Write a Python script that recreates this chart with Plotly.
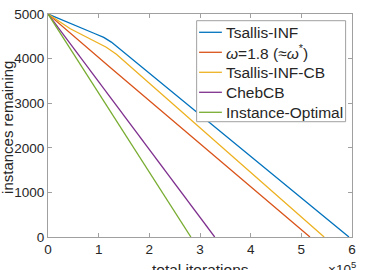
import plotly.graph_objects as go

# data (raw iteration counts; axis shows units of 1e5)
tsallis_x = [0, 44000, 93000, 110000, 125000, 594000]
tsallis_y = [5000, 4782, 4557, 4475, 4370, 0]
omega_x = [0, 120000, 517000]
omega_y = [5000, 3830, 0]
tsallis_cb_x = [0, 44000, 93000, 115000, 135000, 545000]
tsallis_cb_y = [5000, 4670, 4384, 4255, 4100, 0]
cheb_x = [0, 329000]
cheb_y = [5000, 0]
opt_x = [0, 282000]
opt_y = [5000, 0]

names = ["Tsallis-INF", "<i>ω</i>=1.8 (≈<i>ω</i><sup>*</sup>)", "Tsallis-INF-CB", "ChebCB", "Instance-Optimal"]
colors = ["#0072BD", "#D95319", "#EDB120", "#7E2F8E", "#77AC30"]
xs = [tsallis_x, omega_x, tsallis_cb_x, cheb_x, opt_x]
ys = [tsallis_y, omega_y, tsallis_cb_y, cheb_y, opt_y]
scale = 1e5
x_title = "total iterations"
y_title = "instances remaining"

fig = go.Figure()
for n, c, x, y in zip(names, colors, xs, ys):
    fig.add_trace(go.Scatter(x=[v / scale for v in x], y=y, mode="lines", name=n,
                             line=dict(color=c, width=1.3), showlegend=False))

font = "Liberation Sans, Arial, sans-serif"
axcol = "#a0a0a0"
txtcol = "#262626"

# manual legend box (paper coordinates)
shapes = [dict(type="rect", xref="paper", yref="paper", x0=0.489, x1=0.979, y0=0.517, y1=0.970,
               line=dict(color=axcol, width=1), fillcolor="white", layer="above")]
annotations = []
row_y0, row_dy = 0.918, 20 / 223
for i, (n, c) in enumerate(zip(names, colors)):
    yy = row_y0 - i * row_dy
    shapes.append(dict(type="line", xref="paper", yref="paper", x0=0.497, x1=0.572, y0=yy, y1=yy,
                       line=dict(color=c, width=1.3), layer="above"))
    annotations.append(dict(text=n, x=0.579, y=yy, xref="paper", yref="paper", xanchor="left",
                            yanchor="middle", showarrow=False,
                            font=dict(size=15.5, color=txtcol, family=font)))

annotations.append(dict(text="×10<sup>5</sup>", x=1.0, y=0, xref="paper", yref="paper",
                        xanchor="right", yanchor="top", xshift=6, yshift=-20, showarrow=False,
                        font=dict(size=13.5, color=txtcol, family=font)))
# axis titles
annotations.append(dict(text=x_title, x=0.5, y=0, xref="paper", yref="paper",
                        xanchor="center", yanchor="top", yshift=-22, showarrow=False,
                        font=dict(size=15.5, color=txtcol, family=font)))
annotations.append(dict(text=y_title, x=0, y=0.489, xref="paper", yref="paper", textangle=-90,
                        xanchor="center", yanchor="middle", xshift=-40, showarrow=False,
                        font=dict(size=15, color=txtcol, family=font)))

fig.update_layout(
    width=383, height=270,
    margin=dict(l=48, r=31, t=14, b=33),
    paper_bgcolor="white", plot_bgcolor="white",
    font=dict(family=font, color=txtcol, size=13),
    showlegend=False,
    shapes=shapes,
    annotations=annotations,
    xaxis=dict(range=[0, 6], tickvals=[0, 1, 2, 3, 4, 5, 6], ticks="inside", ticklen=4,
               tickcolor=axcol, showline=True, linecolor=axcol, linewidth=1, mirror="ticks",
               showgrid=False, zeroline=False, tickfont=dict(size=13.5), automargin=False),
    yaxis=dict(range=[0, 5000], tickvals=[0, 1000, 2000, 3000, 4000, 5000], ticks="inside", ticklen=4,
               tickcolor=axcol, showline=True, linecolor=axcol, linewidth=1, mirror="ticks",
               showgrid=False, zeroline=False, tickfont=dict(size=13.5), automargin=False),
)
fig.write_html("out.html", config={"displayModeBar": False},
               post_script="document.body.style.margin='0px';")
